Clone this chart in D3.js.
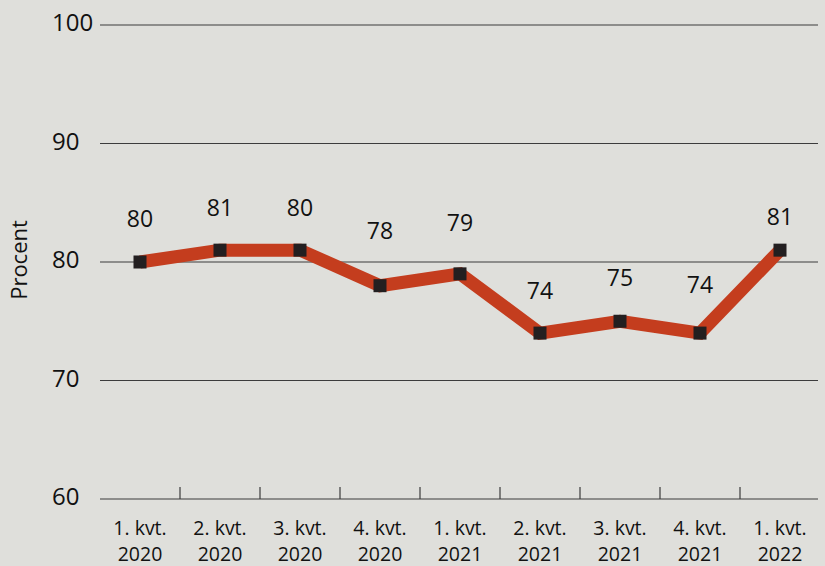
<!DOCTYPE html>
<html><head><meta charset="utf-8">
<script src="https://cdn.jsdelivr.net/npm/d3@7/dist/d3.min.js"></script>
<style>
html,body{margin:0;padding:0;background:#dfdfdb;}
svg{display:block;}
text{font-family:"Open Sans","Noto Sans",sans-serif;fill:#111;}
</style></head>
<body>
<svg id="c" width="825" height="566"></svg>
<script>
const categories = ["1. kvt.|2020","2. kvt.|2020","3. kvt.|2020","4. kvt.|2020","1. kvt.|2021","2. kvt.|2021","3. kvt.|2021","4. kvt.|2021","1. kvt.|2022"];
const values = [80, 81, 81, 78, 79, 74, 75, 74, 81];
const valueLabels = ["80","81","80","78","79","74","75","74","81"];
const yTicks = [60, 70, 80, 90, 100];
const labelGap = [35, 34, 34, 47, 43, 34, 35, 40, 25];

const svg = d3.select("#c");
const x = d3.scaleBand().domain(categories).range([100, 820]).padding(0);
const y = d3.scaleLinear().domain([60, 100]).range([499, 25]);

// grid lines
svg.append("g").selectAll("line").data(yTicks).join("line")
  .attr("x1", 100).attr("x2", 818)
  .attr("y1", d => y(d)).attr("y2", d => y(d))
  .attr("stroke", "#3c3c3c").attr("stroke-width", 1.2);

// y labels
svg.append("g").selectAll("text").data(yTicks).join("text")
  .attr("x", 52).attr("y", d => y(d) + 6)
  .attr("font-size", 24).text(d => d);

// x ticks at band boundaries
const bounds = categories.slice(1).map(c => x(c));
svg.append("g").selectAll("line").data(bounds).join("line")
  .attr("x1", d => d).attr("x2", d => d)
  .attr("y1", y(60)).attr("y2", y(60) - 12)
  .attr("stroke", "#3c3c3c").attr("stroke-width", 1.2);

// x labels
const xl = svg.append("g").selectAll("text").data(categories).join("text")
  .attr("text-anchor", "middle").attr("font-size", 19.5)
  .attr("transform", d => `translate(${x(d) + x.bandwidth()/2},0)`);
xl.append("tspan").attr("x", 0).attr("y", 535).text(d => d.split("|")[0]);
xl.append("tspan").attr("x", 0).attr("y", 561).text(d => d.split("|")[1]);

// y title
svg.append("text").attr("transform", "translate(27,260) rotate(-90)")
  .attr("text-anchor", "middle").attr("font-size", 22).text("Procent");

// line
const cx = i => x(categories[i]) + x.bandwidth()/2;
const line = d3.line().x((d, i) => cx(i)).y(d => y(d));
svg.append("path").datum(values).attr("d", line)
  .attr("fill", "none").attr("stroke", "#c43d1e").attr("stroke-width", 13)
  .attr("stroke-linejoin", "miter").attr("stroke-linecap", "butt");

// markers
svg.append("g").selectAll("rect").data(values).join("rect")
  .attr("x", (d, i) => cx(i) - 6.5).attr("y", d => y(d) - 6.5)
  .attr("width", 13).attr("height", 13).attr("fill", "#231f20");

// value labels
svg.append("g").selectAll("text").data(values).join("text")
  .attr("text-anchor", "middle").attr("font-size", 23)
  .attr("x", (d, i) => cx(i))
  .attr("y", (d, i) => y(d) - labelGap[i])
  .text((d, i) => valueLabels[i]);
</script>
</body></html>
